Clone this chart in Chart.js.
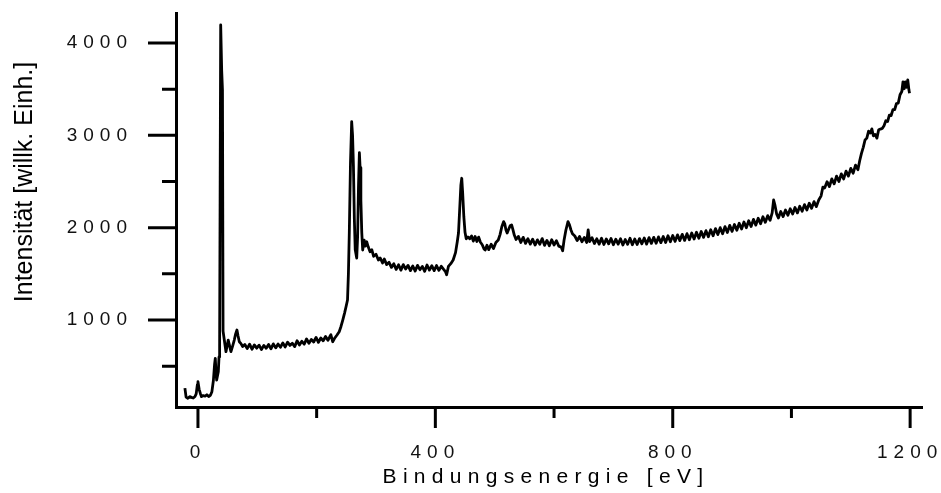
<!DOCTYPE html>
<html lang="de">
<head>
<meta charset="utf-8">
<title>XPS Übersichtsspektrum</title>
<script src="https://cdn.jsdelivr.net/npm/chart.js@4.4.0/dist/chart.umd.min.js"></script>
<style>
    html, body { margin: 0; padding: 0; background: #fff; overflow: hidden; }
    canvas { display: block; }
</style>
</head>
<body>
<canvas id="xpsChart" width="941" height="493"></canvas>
<script>
// Binding energy [eV] of each sample point
const energie = [
    -22, -20, -17, -14, -11, -8, -5, -3, -1, 0,
    2, 4, 6, 9, 12, 15, 18, 21, 23.5, 26,
    28, 29.2, 30.5, 31.5, 33, 34.3, 35.5, 36.5, 38.3, 40,
    41.3, 42.3, 44.4, 47.2, 51, 55.6, 58.5, 61.2, 63.5, 65.7,
    67.5, 69.7, 72.5, 75.3, 79, 83, 87, 91, 95, 99,
    103, 107, 111, 115, 119, 123, 127, 131, 135, 139,
    143, 147, 151, 155, 159, 163, 167, 171, 175, 179,
    183, 187, 191, 195, 199, 203, 207, 211, 215, 219,
    222, 224, 227, 230, 234, 238, 241, 244, 247, 249.5,
    252, 253.5, 255, 257, 259, 260.5, 262, 263.5, 265, 267.5,
    269, 270.5, 272, 273.2, 274.5, 276, 277.6, 280, 282, 284.3,
    287, 290, 293, 296, 300, 304, 307, 311, 314, 318,
    322, 326, 330, 334, 338, 342, 346, 350, 354, 358,
    362, 366, 370, 374, 378, 382, 386, 390, 394, 398,
    402, 406, 410, 414, 417, 419, 422, 426, 430, 434,
    437, 439, 441, 443, 444.5, 446, 448, 450, 452, 455,
    458, 461, 464, 467, 470, 473, 476, 479, 482, 484,
    487, 490, 494, 498, 502, 506, 509, 512, 515, 517,
    519, 521, 523, 526, 528.5, 530.5, 533, 536, 540, 544,
    548, 552, 556, 560, 564, 568, 572, 576, 580, 584,
    588, 592, 596, 600, 604, 608, 612, 614.5, 617, 620,
    623.5, 626, 628.5, 631, 635, 639, 643, 647, 651, 655,
    657.5, 660, 664, 668, 672, 676, 680, 684, 688, 692,
    696, 700, 704, 708, 712, 716, 720, 724, 728, 732,
    736, 740, 744, 748, 752, 756, 760, 764, 768, 772,
    776, 780, 784, 788, 792, 796, 800, 804, 808, 812,
    816, 820, 824, 828, 832, 836, 840, 844, 848, 852,
    856, 860, 864, 868, 872, 876, 880, 884, 888, 892,
    896, 900, 904, 908, 912, 916, 920, 924, 928, 932,
    936, 940, 944, 948, 952, 956, 960, 964, 967.5, 970,
    972, 975, 978, 982, 986, 990, 994, 998, 1002, 1006,
    1010, 1014, 1018, 1022, 1026, 1030, 1034, 1038, 1042, 1046,
    1050, 1053, 1056, 1060, 1064, 1068, 1072, 1076, 1080, 1084,
    1088, 1092, 1096, 1100, 1104, 1108, 1112, 1115, 1118, 1121,
    1124, 1127, 1130, 1133, 1135.5, 1138, 1141, 1144, 1147, 1150,
    1153, 1156, 1159, 1162, 1165, 1168, 1171, 1174, 1177, 1180,
    1183, 1186, 1188, 1190, 1192, 1194, 1196, 1198, 1199
];

// Intensity [arb. units], same order as energie
const intensitaet = [
    262, 165, 152, 170, 162, 155, 172, 200, 300, 332,
    250, 205, 170, 182, 175, 190, 172, 185, 224, 345,
    520, 585, 420, 350, 400, 440, 600, 700, 4195, 3700,
    3490, 880, 783, 657, 783, 657, 720, 783, 850, 892,
    830, 765, 745, 712, 735, 690, 738, 684, 730, 695,
    728, 680, 725, 694, 735, 688, 742, 698, 740, 705,
    752, 708, 760, 725, 748, 712, 775, 730, 770, 738,
    795, 748, 790, 762, 812, 758, 805, 775, 822, 780,
    818, 840, 765, 800, 835, 873, 930, 1000, 1075, 1144,
    1217, 1500, 1942, 2700, 3148, 3000, 2660, 2100, 1760, 1671,
    1900, 2450, 2812, 2650, 2300, 1950, 1758, 1866, 1800, 1848,
    1790, 1740, 1760, 1690, 1712, 1650, 1672, 1618, 1660, 1600,
    1625, 1570, 1610, 1548, 1598, 1540, 1600, 1552, 1592, 1535,
    1585, 1530, 1592, 1545, 1580, 1528, 1596, 1540, 1588, 1535,
    1590, 1538, 1582, 1548, 1525, 1490, 1580, 1610, 1650, 1730,
    1850, 1942, 2200, 2460, 2535, 2380, 2119, 1950, 1880, 1900,
    1880, 1910, 1855, 1905, 1850, 1898, 1842, 1815, 1770, 1758,
    1810, 1762, 1820, 1775, 1840, 1866, 1925, 2010, 2065, 2040,
    1975, 1942, 1975, 2020, 2029, 1985, 1920, 1872, 1905, 1840,
    1895, 1830, 1880, 1822, 1875, 1812, 1868, 1820, 1882, 1808,
    1862, 1805, 1870, 1812, 1858, 1800, 1790, 1750, 1870, 1975,
    2065, 2030, 1975, 1935, 1910, 1860, 1905, 1848, 1895, 1840,
    1975, 1850, 1892, 1828, 1880, 1822, 1885, 1818, 1878, 1825,
    1882, 1815, 1875, 1822, 1880, 1812, 1872, 1820, 1885, 1815,
    1878, 1818, 1882, 1825, 1888, 1822, 1892, 1830, 1895, 1832,
    1900, 1838, 1905, 1840, 1912, 1848, 1915, 1852, 1922, 1860,
    1928, 1862, 1935, 1870, 1942, 1878, 1950, 1885, 1958, 1895,
    1968, 1902, 1978, 1912, 1990, 1925, 2000, 1935, 2012, 1948,
    2025, 1960, 2035, 1972, 2048, 1985, 2062, 2000, 2075, 2012,
    2090, 2028, 2102, 2042, 2118, 2058, 2130, 2080, 2160, 2300,
    2250, 2150, 2105, 2175, 2120, 2192, 2135, 2205, 2148, 2218,
    2160, 2232, 2178, 2250, 2192, 2265, 2210, 2282, 2228, 2300,
    2345, 2440, 2430, 2498, 2445, 2528, 2475, 2558, 2500, 2582,
    2528, 2612, 2558, 2642, 2590, 2678, 2628, 2725, 2805, 2870,
    2950, 2970, 3045, 3025, 3070, 2995, 3010, 2970, 3060, 3068,
    3075, 3105, 3158, 3150, 3218, 3215, 3278, 3280, 3345, 3350,
    3440, 3475, 3580, 3505, 3580, 3520, 3600, 3490, 3455
];

// Tick values
const xMajorTicks = [0, 400, 800, 1200];
const xMinorTicks = [200, 600, 1000];
const yMajorTicks = [1000, 2000, 3000, 4000];
const yMinorTicks = [500, 1500, 2500, 3500];

const xTitle = 'Bindungsenergie [eV]';
const yTitle = 'Intensität [willk. Einh.]';

const fontFamily = '"Liberation Sans", Arial, sans-serif';

// Draws major/minor tick marks and the two axis titles
const axisDecorPlugin = {
    id: 'axisDecor',
    beforeDraw(chart) {
        // spaced-out tick labels like the original
        chart.ctx.letterSpacing = '6px';
    },
    afterDraw(chart) {
        const { ctx, chartArea, scales: { x, y } } = chart;
        ctx.save();
        ctx.strokeStyle = '#000';
        ctx.lineWidth = 3;
        ctx.beginPath();
        yMajorTicks.forEach(v => {
            const py = y.getPixelForValue(v);
            ctx.moveTo(chartArea.left - 28, py);
            ctx.lineTo(chartArea.left, py);
        });
        yMinorTicks.forEach(v => {
            const py = y.getPixelForValue(v);
            ctx.moveTo(chartArea.left - 14, py);
            ctx.lineTo(chartArea.left, py);
        });
        xMajorTicks.forEach(v => {
            const px = x.getPixelForValue(v);
            ctx.moveTo(px, chartArea.bottom);
            ctx.lineTo(px, chartArea.bottom + 21);
        });
        xMinorTicks.forEach(v => {
            const px = x.getPixelForValue(v);
            ctx.moveTo(px, chartArea.bottom);
            ctx.lineTo(px, chartArea.bottom + 11);
        });
        ctx.stroke();

        ctx.fillStyle = '#000';
        ctx.textBaseline = 'alphabetic';
        ctx.textAlign = 'center';

        // x title
        ctx.font = '21px ' + fontFamily;
        ctx.letterSpacing = '6.3px';
        ctx.fillText(xTitle, (chartArea.left + chartArea.right) / 2 - 3, 483);

        // y title
        ctx.letterSpacing = '0px';
        ctx.font = '25px ' + fontFamily;
        ctx.translate(32, 182);
        ctx.rotate(-Math.PI / 2);
        ctx.fillText(yTitle, 0, 0);
        ctx.restore();
    }
};

const ctx = document.getElementById('xpsChart').getContext('2d');
const xpsChart = new Chart(ctx, {
    type: 'line',
    data: {
        datasets: [{
            data: energie.map((e, i) => ({ x: e, y: intensitaet[i] })),
            borderColor: '#000',
            borderWidth: 2.8,
            borderJoinStyle: 'round',
            pointRadius: 0,
            tension: 0,
            fill: false
        }]
    },
    options: {
        responsive: false,
        devicePixelRatio: 1,
        animation: false,
        layout: {
            padding: { top: 13, right: 19, bottom: 0, left: 0 }
        },
        plugins: {
            legend: { display: false },
            tooltip: { enabled: false }
        },
        scales: {
            x: {
                type: 'linear',
                min: -37,
                max: 1220,
                grid: { display: false },
                border: { display: true, color: '#000', width: 3 },
                afterBuildTicks: scale => {
                    scale.ticks = xMajorTicks.map(v => ({ value: v }));
                },
                afterFit: scale => {
                    scale.height = 86;
                    scale.paddingLeft = 0;
                    scale.paddingRight = 0;
                },
                ticks: {
                    autoSkip: false,
                    maxRotation: 0,
                    padding: 26,
                    color: '#111',
                    font: { family: fontFamily, size: 19 },
                    callback: value => String(value)
                }
            },
            y: {
                type: 'linear',
                min: 58,
                max: 4325,
                grid: { display: false },
                border: { display: true, color: '#000', width: 3 },
                afterBuildTicks: scale => {
                    scale.ticks = yMajorTicks.map(v => ({ value: v }));
                },
                afterFit: scale => {
                    scale.width = 176;
                    scale.paddingTop = 0;
                    scale.paddingBottom = 0;
                },
                ticks: {
                    padding: 35,
                    color: '#111',
                    font: { family: fontFamily, size: 19 },
                    callback: value => String(value)
                }
            }
        }
    },
    plugins: [axisDecorPlugin]
});
</script>
</body>
</html>
